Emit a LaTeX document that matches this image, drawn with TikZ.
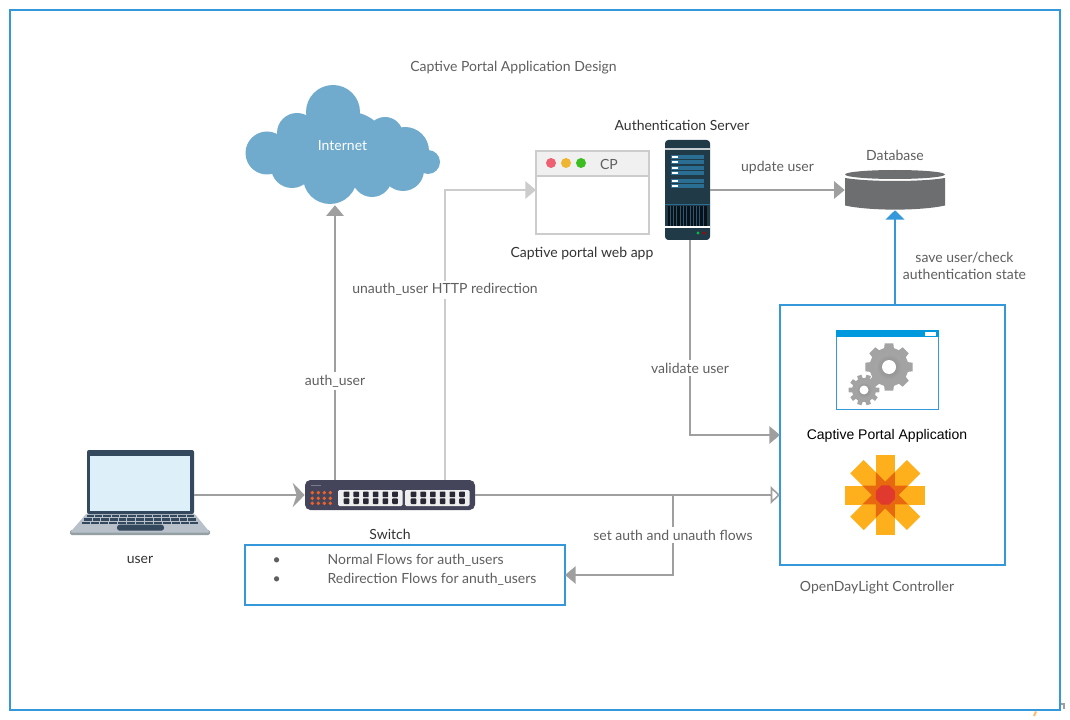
\documentclass[tikz,border=0pt]{standalone}
\usepackage{fontspec}
\setmainfont{Lato}
\newfontfamily\arialfont{Liberation Sans}
\usepackage{xcolor}
\usetikzlibrary{positioning, arrows.meta, calc}
\definecolor{framebluec}{HTML}{3498DB}
\definecolor{linegray}{HTML}{9F9F9F}
\definecolor{palegray}{HTML}{CCCCCC}
\definecolor{labelgray}{HTML}{5F5F5F}
\definecolor{darklabel}{HTML}{333333}
\definecolor{cloudblue}{HTML}{70ABCE}
\definecolor{serverbody}{HTML}{203A48}
\definecolor{serverpanel}{HTML}{2A6E93}
\definecolor{dbgray}{HTML}{6D6E70}
\definecolor{switchbody}{HTML}{44445A}
\definecolor{switchport}{HTML}{EEEEEE}
\definecolor{ledorange}{HTML}{E8622A}
\definecolor{laptopdark}{HTML}{34495E}
\definecolor{laptopscreen}{HTML}{DDF0FA}
\definecolor{laptopbase}{HTML}{B8C1C9}
\definecolor{laptopedge}{HTML}{95A0A4}
\definecolor{windowbar}{HTML}{0099DD}
\definecolor{logoyellow}{HTML}{FDB01B}
\definecolor{logoorange}{HTML}{E8680F}
\definecolor{logored}{HTML}{E03A2E}
\definecolor{dotred}{HTML}{EE5F6F}
\definecolor{dotyellow}{HTML}{F0B530}
\definecolor{dotgreen}{HTML}{3DBE20}
\tikzset{
  lbl/.style={inner sep=1pt, text=labelgray, font=\fontsize{10.5}{13}\selectfont},
  darklbl/.style={lbl, text=darklabel},
  flowlbl/.style={lbl, fill=white, inner sep=2pt},
  bluebox/.style={draw=framebluec, line width=1.5pt, inner sep=0pt, outer sep=0pt},
  conn/.style={draw=linegray, line width=1.4pt},
  solidtip/.style={-{Triangle[length=8pt, width=13pt]}},
  bigtip/.style={-{Stealth[length=9pt, width=18pt, inset=3pt]}},
  opentip/.style={-{Triangle[open, length=7pt, width=13pt, line width=1.2pt]}},
}
% gear with teeth: centre, root radius, tip radius, number of teeth, hole radius
\newcommand{\gearicon}[5]{%
  \fill[gray!72]
    ($(#1)+({0.32*360/#4}:#2)$)
    \foreach \t in {1,...,#4}{
      -- ($(#1)+({(\t-0.32)*360/#4}:#2)$) -- ($(#1)+({(\t-0.23)*360/#4}:#3)$)
      -- ($(#1)+({(\t+0.23)*360/#4}:#3)$) -- ($(#1)+({(\t+0.32)*360/#4}:#2)$)
    } -- cycle;
  \shade[inner color=gray!95, outer color=gray!70] (#1) circle ({#2*0.7});
  \fill[white] (#1) circle (#5);
}
\begin{document}
\begin{tikzpicture}[x=0.75pt, y=-0.75pt]
  \useasboundingbox (0,0) rectangle (1070,720);
  \fill[white] (0,0) rectangle (1070,720);
  \node[bluebox, minimum width=787.5pt, minimum height=525pt] (frame) at (535,360) {};

  \node[lbl] (title) at (513.5,68) {Captive Portal Application Design};

  % cloud
  \fill[cloudblue]
    (333,112) circle (27) (267,153) circle (21.5) (297,133) circle (20)
    (385,135) circle (18) (405,151) circle (24) (428,162) circle (12)
    (330,177) circle (27) (292,167) circle (21) (372,177) circle (20)
    (403,170) circle (21) (350,150) circle (38) (315,150) circle (30);
  \node[inner sep=0pt, minimum width=146pt, minimum height=90pt] (internet) at (335,145) {};
  \node[lbl, text=white] (internetlabel) at (342.5,146) {Internet};

  % web app window
  \node[draw=palegray, line width=1.5pt, fill=white, inner sep=0pt, minimum width=84.75pt, minimum height=62.25pt] (webapp) at (592.5,192.5) {};
  \fill[black!6] (536,151) rectangle (649,176);
  \draw[palegray, line width=1.5pt] (536,151) rectangle (649,234) (536,176) -- (649,176);
  \fill[dotred] (551,163) circle (5);
  \fill[dotyellow] (566,163) circle (5);
  \fill[dotgreen] (581,163) circle (5);
  \node[lbl, font=\fontsize{10.5}{12}\selectfont] (cptext) at (609,164) {CP};
  \node[darklbl] (webapplabel) at (582,254) {Captive portal web app};

  % server
  \node[fill=serverbody, rounded corners=2.5pt, inner sep=0pt, minimum width=33.75pt, minimum height=75pt] (server) at (687.5,190) {};
  \fill[white!75!serverbody] (665,148.5) rectangle (710,150);
  \foreach \y in {155,160,166,171,179,184}{
    \fill[serverpanel] (671,\y) rectangle (704,\y+4);
    \fill[white] (672,\y+1.2) rectangle (678,\y+2.6);
  }
  \fill[serverpanel] (665,204) rectangle (710,205);
  \fill[black!70!serverbody] (668,206) rectangle (707,226);
  \foreach \x in {670,673.3,...,706}{
    \draw[serverpanel!60!serverbody, line width=0.4pt] (\x,206) -- (\x,226);
  }
  \fill[white] (665,226.5) rectangle (710,228);
  \fill[green!50!teal] (698,233) circle (1.6);
  \fill[red!70!black] (704,233) circle (1.6);
  \node[darklbl] (serverlabel) at (682,125) {Authentication Server};

  % database
  \node[inner sep=0pt, minimum width=75pt, minimum height=30pt] (db) at (895,190) {};
  \fill[dbgray] (895,174.5) ellipse (50 and 4.5);
  \fill[dbgray] (845,178) .. controls (870,182) and (920,182) .. (945,178) --
    (945,205.5) .. controls (920,211) and (870,211) .. (845,205.5) -- cycle;
  \node[lbl] (dblabel) at (895,155) {Database};

  % controller
  \node[bluebox, minimum width=168.75pt, minimum height=195pt] (controller) at (892.5,435) {};
  \node[draw=framebluec, line width=0.75pt, inner sep=0pt, minimum width=76.5pt, minimum height=59.25pt] (appwindow) at (887,369.5) {};
  \fill[windowbar] (835.5,330) rectangle (938.5,337);
  \fill[white] (925,332) rectangle (936,335.5);
  \gearicon{889,367}{19.5}{24}{8}{7}
  \gearicon{864,390}{12}{15.5}{10}{4.5}
  \node[lbl, text=black, font=\arialfont\fontsize{10.5}{12}\selectfont] (applabel) at (887,436) {Captive Portal Application};

  % controller logo
  \foreach \a in {0,45,90,135}{
    \fill[logoyellow, rotate around={\a:(885.3,495)}] (845.3,485.5) rectangle (925.3,504.5);
  }
  \fill[logoorange] ($(885.3,495)+(22.5:24.8)$)
    \foreach \k in {0,...,7}{
      -- ($(885.3,495)+({45+45*\k}:13.4)$) -- ($(885.3,495)+({67.5+45*\k}:24.8)$)
    } -- cycle;
  \fill[logored] ($(885.3,495)+(22.5:10.3)$)
    \foreach \k in {1,...,7}{
      -- ($(885.3,495)+({22.5+45*\k}:10.3)$)
    } -- cycle;
  \node[lbl] (controllerlabel) at (877,588) {OpenDayLight Controller};

  % laptop
  \fill[laptopedge, rounded corners=1.5pt] (70,530) -- (210,530) -- (210,535) -- (70,535) -- cycle;
  \fill[laptopbase, rounded corners=1.5pt] (87,513) -- (194,513) -- (210,532.5) -- (70,532.5) -- cycle;
  \node[fill=laptopdark, rounded corners=1.5pt, inner sep=0pt, minimum width=80.25pt, minimum height=48pt] (laptop) at (140.5,482) {};
  \fill[laptopscreen] (90,456) rectangle (190,511);
  \foreach \r/\yt/\xl/\xr/\n in {0/515/86.5/195/13, 1/518.3/84/197/13, 2/522/82/199/13}{
    \pgfmathsetmacro{\kw}{(\xr-\xl)/\n}
    \foreach \k in {1,...,\n}{
      \fill[laptopdark] ({\xl+(\k-1)*\kw},\yt) rectangle ({\xl+\k*\kw-1},\yt+2.4);
    }
  }
  \fill[laptopdark, rounded corners=2pt] (117,524.7) rectangle (164,530.7);
  \node[darklbl] (laptoplabel) at (140,560) {user};

  % switch
  \node[fill=switchbody, rounded corners=4pt, inner sep=0pt, minimum width=127.5pt, minimum height=22.5pt] (switch) at (390,495) {};
  \draw[switchbody!70!white, line width=0.5pt] (311,485.7) -- (321,485.7);
  \foreach \x in {312.3,318.3,324.3,330.3}{
    \foreach \y in {492.7,498.3,503.3}{
      \fill[ledorange] (\x,\y) circle (1.9);
    }
  }
  \foreach \xp in {338,405}{
    \fill[switchport, rounded corners=1pt] (\xp,490) rectangle (\xp+64.5,506);
    \foreach \k in {0,...,5}{
      \foreach \y in {491.5,498.3}{
        \fill[switchbody!60!black, rounded corners=0.6pt] (\xp+5.7+\k*9.7,\y) rectangle (\xp+11.3+\k*9.7,\y+5.7);
      }
    }
  }
  \node[darklbl] (switchlabel) at (390,534) {Switch};

  % flow table
  \node[bluebox, minimum width=240pt, minimum height=45pt] (flows) at (405,575) {};
  \node[lbl, anchor=west] (normalflows) at (271,560.5) {\makebox[41.25pt][l]{\textbullet}Normal Flows for auth\_users};
  \node[lbl, anchor=west] (redirectflows) at (271,579.5) {\makebox[41.25pt][l]{\textbullet}Redirection Flows for anuth\_users};

  % connector end points on the switch
  \coordinate (authport) at (335,480);
  \coordinate (unauthport) at (445,480);
  \coordinate (flowjoin) at (673,495);
  \coordinate (validatein) at (780,435);
  \coordinate (flowsin) at (780,495);
  \coordinate (serverout) at (690,240);
  \coordinate (webappin) at (536,190);

  % connectors
  \draw[conn, bigtip] (laptop.east |- switch.west) -- (switch.west);
  \draw[conn, solidtip] (authport) -- node[flowlbl, pos=0.36] (authlabel) {auth\_user} (authport |- internet.south);
  \draw[draw=palegray, line width=1.4pt, solidtip] (unauthport) |- node[flowlbl, pos=0.328] (unauthlabel) {unauth\_user HTTP redirection} (webappin);
  \draw[conn, solidtip] (server.east) -- node[lbl, above=11pt, inner sep=0pt] (updatelabel) {update user} (db.west);
  \draw[conn, solidtip] (serverout) |- node[flowlbl, pos=0.328] (validatelabel) {validate user} (validatein);
  \draw[conn, opentip] (switch.east) -- (flowsin);
  \draw[conn, solidtip] (flowjoin) |- node[flowlbl, pos=0.25] (setlabel) {set auth and unauth flows} (flows.east);
  \draw[draw=framebluec, line width=1.5pt, -{Triangle[length=7pt, width=14pt]}] (db.south |- controller.north) -- (db.south);
  \node[lbl, align=center] (savelabel) at (964.5,266) {save user/check\\authentication state};

  % clipped marks at the corner
  \draw[linegray, line width=0.8pt] (1061,704) -- (1064,704) -- (1064,709);
  \draw[orange!55!white, line width=1.5pt] (1036,711.5) -- (1034,716);
\end{tikzpicture}
\end{document}
